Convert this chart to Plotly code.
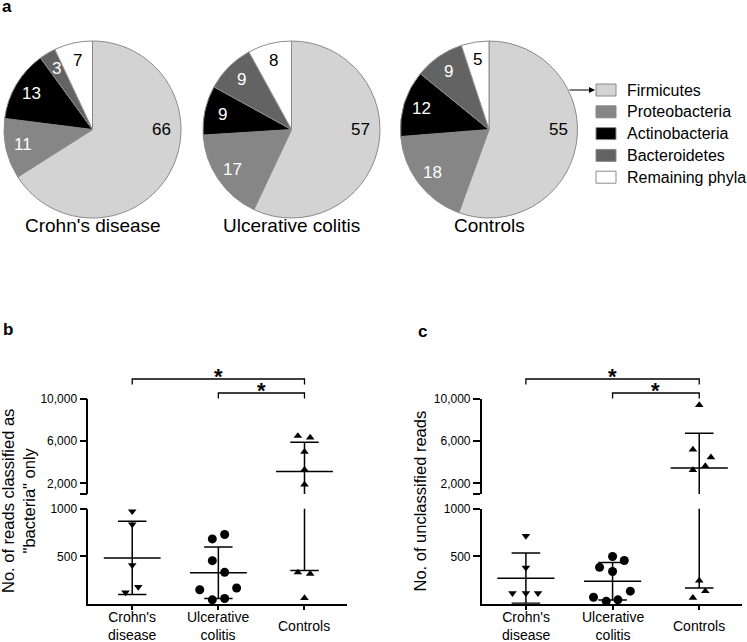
import math
import plotly.graph_objects as go

W, H = 747, 642
FONT = "Liberation Sans, Arial, sans-serif"

# ---------------- data ----------------
phyla = ["Firmicutes", "Proteobacteria", "Actinobacteria", "Bacteroidetes", "Remaining phyla"]
pie_titles = ["Crohn's disease", "Ulcerative colitis", "Controls"]
crohns_pct = [66, 11, 13, 3, 7]
uc_pct = [57, 17, 9, 9, 8]
controls_pct = [55, 18, 12, 9, 5]

group_labels = ["Crohn's<br>disease", "Ulcerative<br>colitis", "Controls"]

# panel b: No. of reads classified as "bacteria" only
b_cd = [974, 836, 406, 177, 119]
b_cd_dx = [0, 0, 0, 0.07, -0.078]
b_uc = [683, 729, 454, 331, 148, 166, 42, 56]
b_uc_dx = [-0.07, 0.073, -0.07, 0.073, -0.216, 0.212, -0.07, 0.073]
b_ctrl = [6500, 6350, 5000, 3300, 1900, 330, 315, 60]
b_ctrl_dx = [-0.077, 0.066, 0, 0, 0, -0.077, 0.066, 0]
b_mean = [483, 327, 3130]
b_sd = [386, 272, 2780]

# panel c: No. of unclassified reads
c_cd = [714, 380, 112, 112, 112]
c_cd_dx = [0, 0, -0.155, 0, 0.14]
c_uc = [498, 385, 456, 340, 133, 69, 27, 42]
c_uc_dx = [0, -0.15, 0.135, 0, 0.205, -0.22, -0.073, 0.062]
c_ctrl = [9430, 5210, 4480, 3650, 3270, 245, 133, 63]
c_ctrl_dx = [0, -0.073, 0.135, 0.07, -0.073, 0, 0.07, -0.073]
c_mean = [270, 238, 3457]
c_sd = [264, 197, 3290]

lower_tickvals = [500, 1000]
lower_ticktext = ["500", "1000"]
upper_tickvals = [1000, 2000, 6000, 10000]
upper_ticktext = ["", "2,000", "6,000", "10,000"]
BREAK = 1000

# ---------------- styles ----------------
phyla_colors = ["#d3d3d3", "#868686", "#000000", "#636363", "#ffffff"]
phyla_text_colors = ["black", "white", "white", "white", "black"]


def px_x(p):
    return p / W


def px_y(p):
    return 1 - p / H


fig = go.Figure()

# ---------------- panel a: pies ----------------
pie_cx = [92.5, 291.5, 489.0]
pie_cy = 129.5
pie_r = 88.5
annotations = []
shapes = []
for k, vals in enumerate([crohns_pct, uc_pct, controls_pct]):
    cx = pie_cx[k]
    fig.add_trace(go.Pie(
        values=vals, labels=phyla, sort=False, direction="clockwise", rotation=0,
        domain=dict(x=[px_x(cx - pie_r), px_x(cx + pie_r)],
                    y=[px_y(pie_cy + pie_r), px_y(pie_cy - pie_r)]),
        marker=dict(colors=phyla_colors, line=dict(color="#8a8a8a", width=1)),
        textinfo="none", showlegend=False, hoverinfo="label+value",
    ))
    total = sum(vals)
    cum = 0
    for i, v in enumerate(vals):
        if i == 0:
            ang, rl = 90.0, 69
        else:
            ang, rl = 360.0 * (cum + v / 2) / total, 71
        cum += v
        a = math.radians(ang)
        annotations.append(dict(
            x=px_x(cx + rl * math.sin(a)), y=px_y(pie_cy - rl * math.cos(a)),
            xref="paper", yref="paper", text=str(v), showarrow=False,
            font=dict(size=17, color=phyla_text_colors[i], family=FONT),
            xanchor="center", yanchor="middle"))
    annotations.append(dict(
        x=px_x(cx), y=px_y(226), xref="paper", yref="paper", text=pie_titles[k],
        showarrow=False, font=dict(size=19, color="black", family=FONT),
        xanchor="center", yanchor="middle"))

# legend (manual)
leg_x0, leg_y0, leg_dy = 596, 90, 21.8
for i, name in enumerate(phyla):
    yc = leg_y0 + i * leg_dy
    shapes.append(dict(type="rect", xref="paper", yref="paper",
                       x0=px_x(leg_x0), x1=px_x(leg_x0 + 20),
                       y0=px_y(yc + 6), y1=px_y(yc - 6),
                       fillcolor=phyla_colors[i], line=dict(color="#8a8a8a", width=1)))
    annotations.append(dict(x=px_x(leg_x0 + 29), y=px_y(yc), xref="paper", yref="paper",
                            text=name, showarrow=False, xanchor="left", yanchor="middle",
                            font=dict(size=16, color="black", family=FONT)))
# arrow from controls pie to legend
annotations.append(dict(x=px_x(595), y=px_y(90), xref="paper", yref="paper", text="",
                        showarrow=True, ax=-27, ay=0, arrowhead=2, arrowsize=1,
                        arrowwidth=1.2, arrowcolor="black"))

# ---------------- panels b and c ----------------
symbols = ["triangle-down", "circle", "triangle-up"]
msizes = [7.5, 9, 7.5]


def add_panel(xa, ylo, yhi, groups_vals, groups_dx, means, sds):
    for g, (vals, dxs) in enumerate(zip(groups_vals, groups_dx)):
        lo_x = [g + d for v, d in zip(vals, dxs) if v < BREAK]
        lo_y = [v for v in vals if v < BREAK]
        hi_x = [g + d for v, d in zip(vals, dxs) if v >= BREAK]
        hi_y = [v for v in vals if v >= BREAK]
        for xs, ys, ya in [(lo_x, lo_y, ylo), (hi_x, hi_y, yhi)]:
            if xs:
                fig.add_trace(go.Scatter(
                    x=xs, y=ys, xaxis=xa, yaxis=ya, mode="markers", cliponaxis=False,
                    marker=dict(symbol=symbols[g], size=msizes[g], color="black"),
                    showlegend=False, hoverinfo="y"))
    # mean +/- SD
    lx, ly = [], []
    for g, (m, s) in enumerate(zip(means, sds)):
        lx += [g - 0.33, g + 0.33, None, g - 0.165, g + 0.165, None,
               g - 0.165, g + 0.165, None, g, g, None]
        ly += [m, m, None, m + s, m + s, None, m - s, m - s, None, m - s, m + s, None]
    for ya in (ylo, yhi):
        fig.add_trace(go.Scatter(x=lx, y=ly, xaxis=xa, yaxis=ya, mode="lines",
                                 line=dict(color="black", width=1.5),
                                 showlegend=False, hoverinfo="skip"))


add_panel("x", "y", "y2", [b_cd, b_uc, b_ctrl], [b_cd_dx, b_uc_dx, b_ctrl_dx], b_mean, b_sd)
add_panel("x2", "y3", "y4", [c_cd, c_uc, c_ctrl], [c_cd_dx, c_uc_dx, c_ctrl_dx], c_mean, c_sd)

LO = [px_y(603.8), px_y(508.8)]
HI = [px_y(494.0), px_y(399.0)]
axis_common = dict(showline=True, linecolor="black", linewidth=1.5, ticks="outside",
                   tickcolor="black", tickwidth=1.5, showgrid=False, zeroline=False,
                   automargin=False, tickfont=dict(size=12, color="black", family=FONT))
xcommon = dict(axis_common, tickvals=[0, 1, 2], showticklabels=False, ticklen=4,
               range=[-0.51, 2.49], fixedrange=True)
ylo_common = dict(axis_common, range=[0, BREAK], tickvals=lower_tickvals,
                  ticktext=lower_ticktext, ticklen=7)
yhi_common = dict(axis_common, range=[BREAK, 10000], tickvals=upper_tickvals,
                  ticktext=upper_ticktext, ticklen=7)

fig.update_layout(
    xaxis=dict(xcommon, domain=[px_x(88.3), px_x(346.7)], anchor="y"),
    yaxis=dict(ylo_common, domain=LO, anchor="x"),
    yaxis2=dict(yhi_common, domain=HI, anchor="x"),
    xaxis2=dict(xcommon, domain=[px_x(481.7), px_x(741.7)], anchor="y3"),
    yaxis3=dict(ylo_common, domain=LO, anchor="x2"),
    yaxis4=dict(yhi_common, domain=HI, anchor="x2"),
)

# category labels, brackets and stars
for xa in ("x", "x2"):
    for g, lab in enumerate(group_labels):
        annotations.append(dict(x=g, y=px_y(625.5), xref=xa, yref="paper", text=lab,
                                showarrow=False, xanchor="center", yanchor="middle",
                                font=dict(size=14, color="black", family=FONT)))
    for (x0, x1, yb, ys) in [(0, 2, 379, 376.5), (1, 2, 393, 390)]:
        shapes.append(dict(type="path", xref=xa, yref="paper",
                           path=f"M {x0},{px_y(yb + 5.5)} L {x0},{px_y(yb)} L {x1},{px_y(yb)} L {x1},{px_y(yb + 5.5)}",
                           line=dict(color="black", width=1.3)))
        annotations.append(dict(x=(x0 + x1) / 2, y=px_y(ys), xref=xa, yref="paper",
                                text="<b>*</b>", showarrow=False, xanchor="center", yanchor="middle",
                                font=dict(size=22, color="black", family=FONT)))

# axis titles
annotations.append(dict(x=px_x(18.5), y=px_y(501.5), xref="paper", yref="paper",
                        text='No. of reads classified as<br>"bacteria" only', textangle=-90,
                        showarrow=False, xanchor="center", yanchor="middle",
                        font=dict(size=16.5, color="black", family=FONT)))
annotations.append(dict(x=px_x(419), y=px_y(501.5), xref="paper", yref="paper",
                        text="No. of unclassified reads", textangle=-90,
                        showarrow=False, xanchor="center", yanchor="middle",
                        font=dict(size=16.5, color="black", family=FONT)))

# panel letters
for lab, xp, yp in [("a", 7, 6), ("b", 8, 330), ("c", 422, 332)]:
    annotations.append(dict(x=px_x(xp), y=px_y(yp), xref="paper", yref="paper",
                            text=f"<b>{lab}</b>", showarrow=False, xanchor="center",
                            yanchor="middle", font=dict(size=17, color="black", family=FONT)))

fig.update_layout(
    width=W, height=H, margin=dict(l=0, r=0, t=0, b=0, pad=0, autoexpand=False),
    paper_bgcolor="white", plot_bgcolor="white",
    font=dict(family=FONT, color="black"),
    annotations=annotations, shapes=shapes, showlegend=False,
)

fig.write_html("out.html", config={"displayModeBar": False},
               post_script="document.body.style.margin='0';document.body.style.overflow='hidden';")
